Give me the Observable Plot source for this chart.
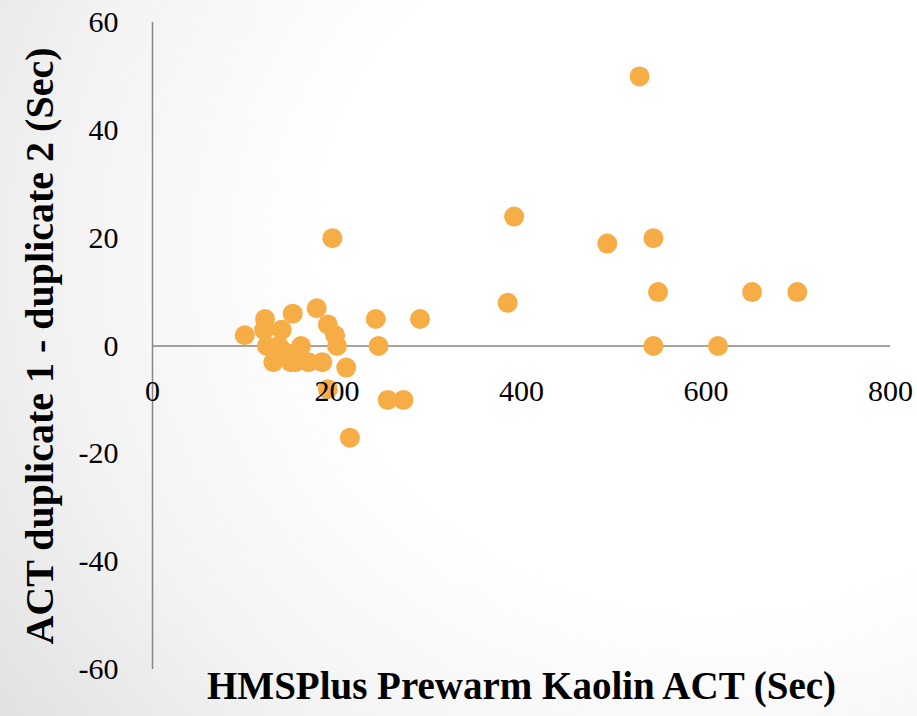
<!DOCTYPE html>
<html>
<head>
<meta charset="utf-8">
<script src="https://cdn.jsdelivr.net/npm/d3@7"></script>
<script src="https://cdn.jsdelivr.net/npm/@observablehq/plot@0.6"></script>
<style>
  html, body { margin: 0; padding: 0; }
  body {
    width: 917px; height: 716px; overflow: hidden;
    background: radial-gradient(ellipse 95% 110% at 78% 35%, #ffffff 45%, #f3f3f3 75%, #e2e2e2 100%);
  }
  #chart svg { display: block; background: transparent; }
</style>
</head>
<body>
<div id="chart"></div>
<script>
// Data
const actSec = [100,122,121,140,152,178,190,198,200,124,137,161,131,150,155,169,184,142,210,190,242,245,290,255,272,214,195,528,392,385,493,543,548,543,613,650,699];
const diffSec = [2,5,3,3,6,7,4,2,0,0,0,0,-3,-3,-3,-3,-3,-1,-4,-8,5,0,5,-10,-10,-17,20,50,24,8,19,20,10,0,0,10,10];
const xTicks = [0,200,400,600,800];
const yTicks = [-60,-40,-20,0,20,40,60];
const xTitle = "HMSPlus Prewarm Kaolin ACT (Sec)";
const yTitle = "ACT duplicate 1 - duplicate 2 (Sec)";

const points = actSec.map((x, i) => ({x, y: diffSec[i]}));
const serif = "Liberation Serif";

const chart = Plot.plot({
  width: 917,
  height: 716,
  marginLeft: 152,
  marginRight: 27,
  marginTop: 22,
  marginBottom: 47,
  style: {background: "transparent", fontFamily: "'Liberation Serif', serif"},
  x: {domain: [0, 800], axis: null},
  y: {domain: [-60, 60], axis: null},
  marks: [
    Plot.ruleX([0], {y1: -60, y2: 60, stroke: "#868686", strokeWidth: 1.5}),
    Plot.ruleY([0], {stroke: "#868686", strokeWidth: 1.5}),
    Plot.dot(points, {x: "x", y: "y", r: 10, fill: "#F6AD46", stroke: "none"}),
    Plot.text(yTicks, {x: 0, y: d => d, text: d => String(d), textAnchor: "end", dx: -34, fontSize: 30, fill: "#000", fontFamily: serif}),
    Plot.text(xTicks, {x: d => d, y: 0, text: d => String(d), dy: 45, fontSize: 30, fill: "#000", fontFamily: serif}),
    Plot.text([xTitle], {frameAnchor: "bottom", text: d => d, dy: 29, fontSize: 39, fontWeight: "bold", fill: "#000", fontFamily: serif}),
    Plot.text([yTitle], {frameAnchor: "left", textAnchor: "middle", text: d => d, rotate: -90, dx: -112, fontSize: 40, fontWeight: "bold", fill: "#000", fontFamily: serif})
  ]
});
document.getElementById("chart").appendChild(chart);
</script>
</body>
</html>
